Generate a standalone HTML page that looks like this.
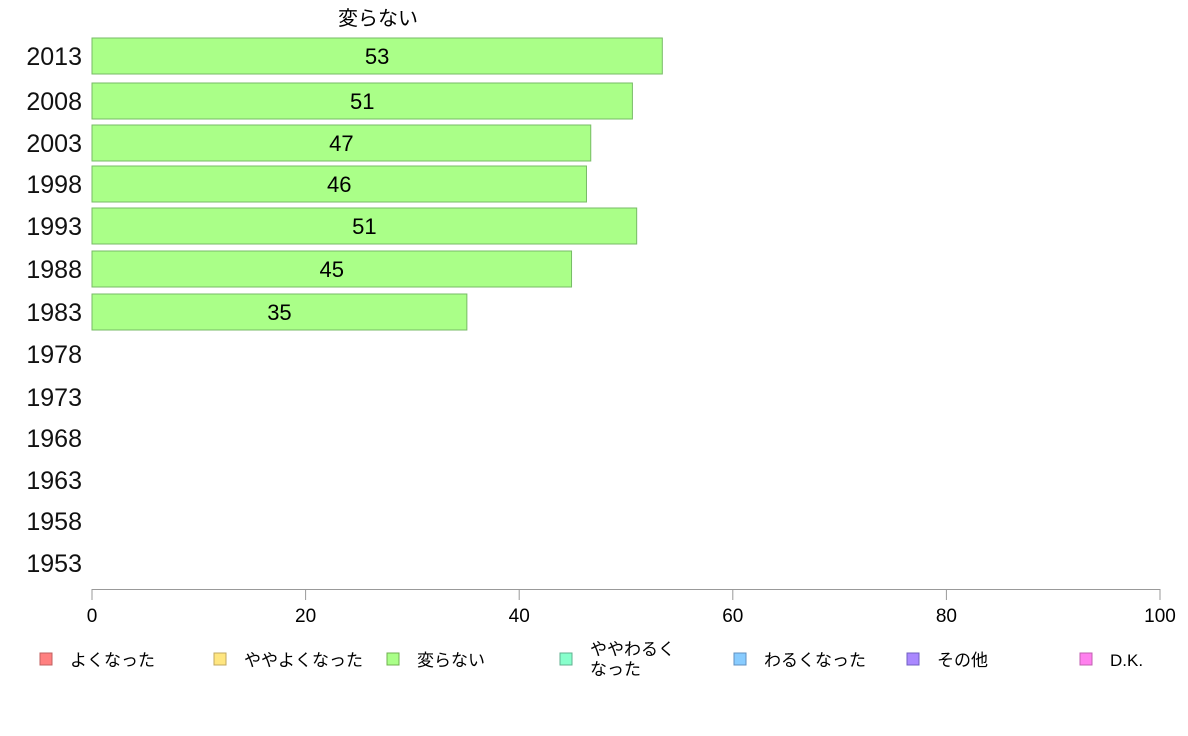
<!DOCTYPE html>
<html><head><meta charset="utf-8"><style>
body{margin:0;background:#fff;}
svg{display:block;font-family:"Liberation Sans","Noto Sans CJK JP",sans-serif;}
</style></head><body>
<svg id="chart" width="1188" height="736"></svg>
<script>
const years=["2013","2008","2003","1998","1993","1988","1983","1978","1973","1968","1963","1958","1953"];
const values=[53.4,50.6,46.7,46.3,51.0,44.9,35.1,null,null,null,null,null,null];
const valueLabels=["53","51","47","46","51","45","35"];
const ticks=[0,20,40,60,80,100];
const legendLabels=["よくなった","ややよくなった","変らない","ややわるく|なった","わるくなった","その他","D.K."];
const legendColors=["#ff8080","#ffe680","#aaff88","#88ffcc","#88ccff","#aa88ff","#ff80ee"];
const legendStroke=["#c06060","#c0a860","#70b050","#60b090","#6090c0","#7060c0","#c060b0"];
const rowCenters=[56,101,143,184,226,269,312,354,397,438,480,521,563];
const NS="http://www.w3.org/2000/svg";
const svg=document.getElementById("chart");
function x(v){return 92+v*10.68;}
function mk(t,a,txt){const e=document.createElementNS(NS,t);for(const k in a)e.setAttribute(k,a[k]);if(txt!=null)e.textContent=txt;svg.appendChild(e);return e;}
const title=mk("text",{x:378,y:25,"font-size":20,"text-anchor":"middle"},"変らない");


years.forEach((y,i)=>{
  const t=mk("text",{x:82,y:rowCenters[i]+9,"font-size":25,"text-anchor":"end",fill:"#111"},y);
  
  
  if(values[i]!=null){
    const r=mk("rect",{x:x(0),y:rowCenters[i]-18,width:x(values[i])-x(0),height:36,fill:"#aaff88",stroke:"#77bb66","stroke-width":1});
    
    
    const v=mk("text",{x:(x(0)+x(values[i]))/2,y:rowCenters[i]+8,"font-size":22,"text-anchor":"middle"},valueLabels[i]);
    
    
  }
});
const ax=mk("line",{x1:x(0),x2:x(100),y1:589.5,y2:589.5,stroke:"#999","stroke-width":1});


ticks.forEach(t=>{
  const l=mk("line",{x1:x(t),x2:x(t),y1:589,y2:600,stroke:"#999"});
  
  
  const tx=mk("text",{x:x(t),y:622,"font-size":19,"text-anchor":"middle"},String(t));
  
  
});
const lx=[40,214,387,560,734,907,1080];
legendLabels.forEach((s,i)=>{
  const r=mk("rect",{x:lx[i],y:653,width:12,height:12,fill:legendColors[i],stroke:legendStroke[i]});
  
  
  const parts=s.split("|");
  parts.forEach((p,j)=>{
    const yy=parts.length>1?655+j*20:666;
    const t=mk("text",{x:lx[i]+30,y:yy,"font-size":17},p);
    
    
  });
});
</script>
</body></html>
